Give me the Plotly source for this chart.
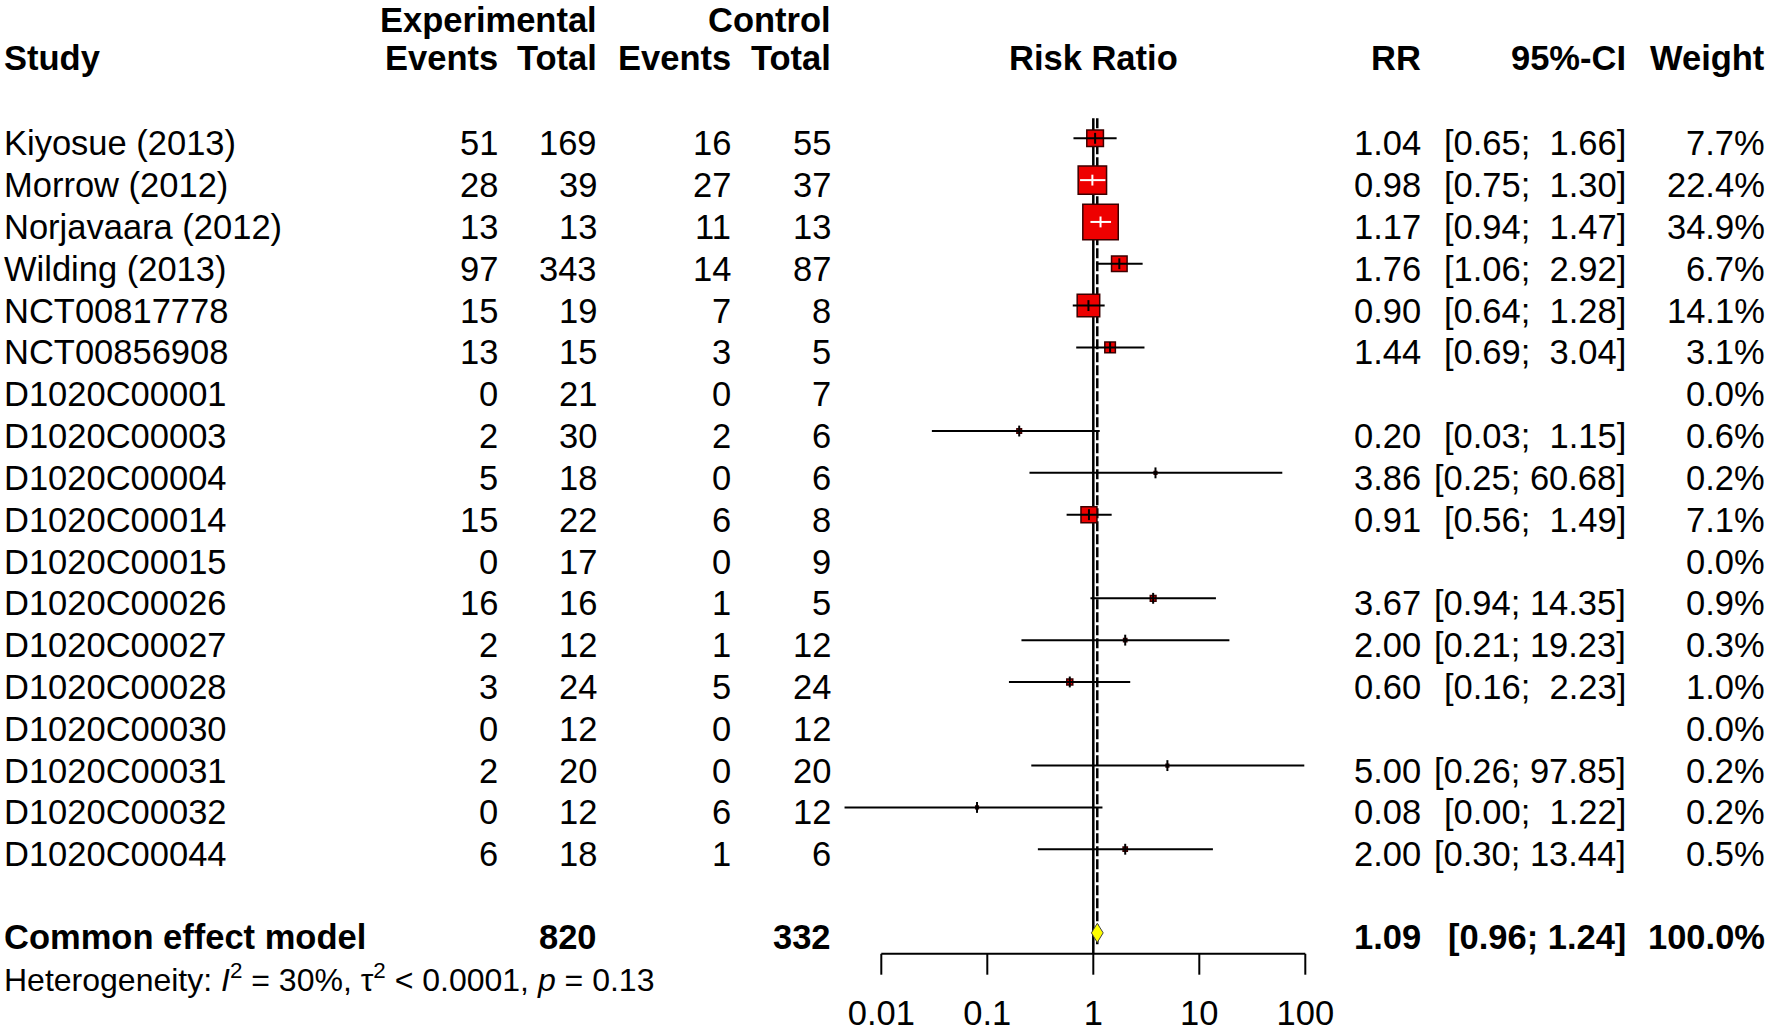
import math
import plotly.graph_objects as go

studies = ["Kiyosue (2013)", "Morrow (2012)", "Norjavaara (2012)", "Wilding (2013)",
           "NCT00817778", "NCT00856908", "D1020C00001", "D1020C00003", "D1020C00004",
           "D1020C00014", "D1020C00015", "D1020C00026", "D1020C00027", "D1020C00028",
           "D1020C00030", "D1020C00031", "D1020C00032", "D1020C00044"]
exp_events = [51, 28, 13, 97, 15, 13, 0, 2, 5, 15, 0, 16, 2, 3, 0, 2, 0, 6]
exp_total = [169, 39, 13, 343, 19, 15, 21, 30, 18, 22, 17, 16, 12, 24, 12, 20, 12, 18]
ctrl_events = [16, 27, 11, 14, 7, 3, 0, 2, 0, 6, 0, 1, 1, 5, 0, 0, 6, 1]
ctrl_total = [55, 37, 13, 87, 8, 5, 7, 6, 6, 8, 9, 5, 12, 24, 12, 20, 12, 6]
rr = [1.04, 0.98, 1.17, 1.76, 0.90, 1.44, None, 0.20, 3.86, 0.91, None, 3.67,
      2.00, 0.60, None, 5.00, 0.08, 2.00]
ci_lo = [0.65, 0.75, 0.94, 1.06, 0.64, 0.69, None, 0.03, 0.25, 0.56, None, 0.94,
         0.21, 0.16, None, 0.26, 0.0045, 0.30]
ci_hi = [1.66, 1.30, 1.47, 2.92, 1.28, 3.04, None, 1.15, 60.68, 1.49, None, 14.35,
         19.23, 2.23, None, 97.85, 1.22, 13.44]
weight = [7.7, 22.4, 34.9, 6.7, 14.1, 3.1, 0.0, 0.6, 0.2, 7.1, 0.0, 0.9, 0.3, 1.0,
          0.0, 0.2, 0.2, 0.5]

pooled_rr, pooled_lo, pooled_hi, pooled_weight = 1.09, 0.96, 1.24, 100.0
tick_vals = [0.01, 0.1, 1, 10, 100]
tick_text = ["0.01", "0.1", "1", "10", "100"]

# page geometry (pixels)
W, H = 1770, 1034
X_ONE = 1093.3      # pixel of RR = 1
PX_DEC = 106.0      # pixels per decade
Y0, ROW = 138.3, 41.82
FONT = "Liberation Sans, Arial, sans-serif"
FS = 34.5

n = len(studies)
rows = list(range(n))
pooled_row = n + 1
axis_row = pooled_row + 0.5


def px(v):
    return v / W


fig = go.Figure()

# reference lines
fig.add_trace(go.Scatter(x=[1, 1], y=[-0.48, axis_row], mode="lines",
                         line=dict(color="black", width=2.5), hoverinfo="skip"))
fig.add_trace(go.Scatter(x=[pooled_rr, pooled_rr], y=[-0.48, pooled_row + 0.27], mode="lines",
                         line=dict(color="black", width=2.5, dash="10px,3px"), hoverinfo="skip"))

# squares
sq_x, sq_y, sq_s = [], [], []
for i in rows:
    if rr[i] is None:
        continue
    sq_x.append(rr[i])
    sq_y.append(i)
    sq_s.append(6.0 * math.sqrt(weight[i]))
fig.add_trace(go.Scatter(x=sq_x, y=sq_y, mode="markers", opacity=1,
                         marker=dict(symbol="square", size=sq_s, color="#ee0000", opacity=1,
                                     line=dict(color="#3a0000", width=1.5)),
                         hoverinfo="skip"))

# CI lines and estimate ticks (white when the CI fits inside the square)
blk_x, blk_y, wht_x, wht_y = [], [], [], []
for i in rows:
    if rr[i] is None:
        continue
    width_px = (math.log10(ci_hi[i]) - math.log10(ci_lo[i])) * PX_DEC
    inside = width_px < 6.0 * math.sqrt(weight[i])
    xs, ys = (wht_x, wht_y) if inside else (blk_x, blk_y)
    xs += [ci_lo[i], ci_hi[i], None, rr[i], rr[i], None]
    ys += [i, i, None, i - 0.13, i + 0.13, None]
fig.add_trace(go.Scatter(x=blk_x, y=blk_y, mode="lines",
                         line=dict(color="black", width=2), hoverinfo="skip"))
fig.add_trace(go.Scatter(x=wht_x, y=wht_y, mode="lines",
                         line=dict(color="white", width=2), hoverinfo="skip"))

# pooled diamond
fig.add_trace(go.Scatter(x=[pooled_lo, pooled_rr, pooled_hi, pooled_rr, pooled_lo],
                         y=[pooled_row, pooled_row - 0.23, pooled_row, pooled_row + 0.23, pooled_row],
                         mode="lines", fill="toself", fillcolor="#ffff00",
                         line=dict(color="#444444", width=1), hoverinfo="skip"))

# axis
ax_x = [tick_vals[0], tick_vals[-1], None]
ax_y = [axis_row, axis_row, None]
for t in tick_vals:
    ax_x += [t, t, None]
    ax_y += [axis_row, axis_row + 0.5, None]
fig.add_trace(go.Scatter(x=ax_x, y=ax_y, mode="lines",
                         line=dict(color="black", width=2), hoverinfo="skip"))
fig.add_trace(go.Scatter(x=tick_vals, y=[axis_row + 1.5] * len(tick_vals), mode="text",
                         text=tick_text, textposition="middle center",
                         textfont=dict(family=FONT, size=FS, color="black"), hoverinfo="skip"))


def txt(x, y, s, anchor="right", bold=False, size=FS):
    if bold:
        s = "<b>" + s + "</b>"
    fig.add_annotation(x=px(x), y=y, xref="paper", yref="y", text=s, showarrow=False,
                       xanchor=anchor, yanchor="middle", borderpad=0,
                       font=dict(family=FONT, size=size, color="black"))


# headers
h1, h2 = -2.84, -1.93
txt(598, h1, "Experimental", bold=True)
txt(832, h1, "Control", bold=True)
txt(3, h2, "Study", "left", True)
txt(499, h2, "Events", bold=True)
txt(598, h2, "Total", bold=True)
txt(732, h2, "Events", bold=True)
txt(832, h2, "Total", bold=True)
txt(X_ONE, h2, "Risk Ratio", "center", True)
txt(1422, h2, "RR", bold=True)
txt(1627, h2, "95%-CI", bold=True)
txt(1766, h2, "Weight", bold=True)

# study rows
OFF = 0.12
for i in rows:
    y = i + OFF
    txt(3, y, studies[i], "left")
    txt(499, y, str(exp_events[i]))
    txt(598, y, str(exp_total[i]))
    txt(732, y, str(ctrl_events[i]))
    txt(832, y, str(ctrl_total[i]))
    if rr[i] is not None:
        txt(1422, y, "%.2f" % rr[i])
        hi = "%.2f" % ci_hi[i]
        sep = "; " if len(hi) > 4 else ";\u00a0 "
        txt(1627, y, "[%.2f%s%s]" % (ci_lo[i], sep, hi))
    txt(1766, y, "%.1f%%" % weight[i])

# pooled row
y = pooled_row + 0.1
txt(3, y, "Common effect model", "left", True)
txt(598, y, str(sum(exp_total)), bold=True)
txt(832, y, str(sum(ctrl_total)), bold=True)
txt(1422, y, "%.2f" % pooled_rr, bold=True)
txt(1627, y, "[%.2f; %.2f]" % (pooled_lo, pooled_hi), bold=True)
txt(1766, y, "%.1f%%" % pooled_weight, bold=True)
txt(3, pooled_row + 1.08,
    "Heterogeneity: <i>I</i><sup>2</sup> = 30%, \u03c4<sup>2</sup> &lt; 0.0001, <i>p</i> = 0.13",
    "left", size=32)

fig.update_layout(
    width=W, height=H, margin=dict(l=0, r=0, t=0, b=0),
    paper_bgcolor="white", plot_bgcolor="white", showlegend=False,
    xaxis=dict(type="log", range=[(0 - X_ONE) / PX_DEC, (W - X_ONE) / PX_DEC],
               domain=[0, 1], visible=False, fixedrange=True),
    yaxis=dict(range=[(H - Y0) / ROW, (0 - Y0) / ROW], domain=[0, 1],
               visible=False, fixedrange=True),
)
fig.write_html("out.html", config={"displayModeBar": False},
               post_script="document.body.style.margin='0';document.body.style.overflow='hidden';")
